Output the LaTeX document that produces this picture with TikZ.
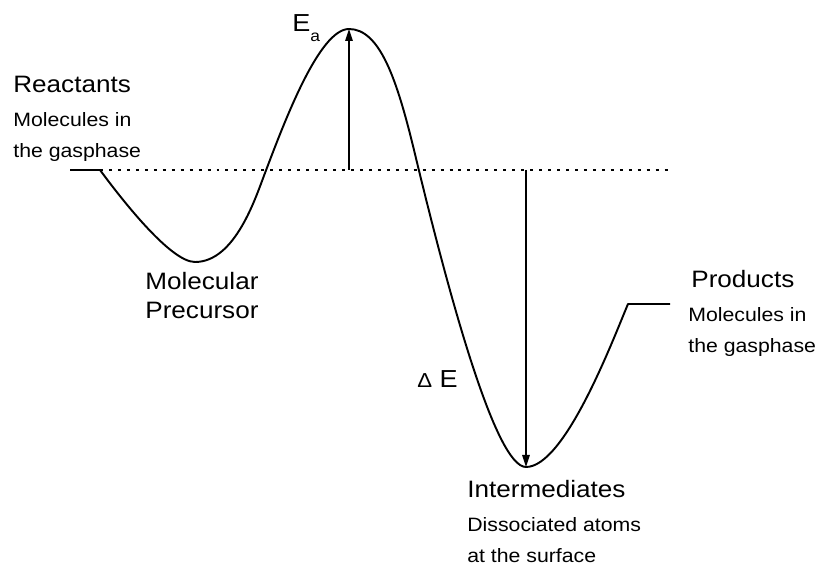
\documentclass[tikz,border=0pt]{standalone}
\usepackage{fontspec}
\setmainfont[FakeStretch=1.1]{Liberation Sans}
\usetikzlibrary{arrows.meta,positioning}
\newcommand{\bigLabel}{\fontsize{13.5}{16}\selectfont}
\newcommand{\smallLabel}{\fontsize{11}{13}\selectfont}

\begin{document}
\begin{tikzpicture}[>={Triangle[length=2.4mm,width=1.5mm]},
  every node/.style={inner sep=0pt, anchor=base west},
  title/.style={font=\bigLabel},
  note/.style={font=\smallLabel},
  profile/.style={line width=1.1pt, line join=round},
  level/.style={line width=0.6pt, dash pattern=on 1.7pt off 3.4pt}]
  \useasboundingbox (0,0) rectangle (16.36,11.34);

  % Reference level and energy profile
  \coordinate (start) at (1.40,7.94);
  \coordinate (react) at (2.00,7.94);
  \coordinate (precursor) at (3.90,6.10);
  \coordinate (rise) at (5.30,7.88);
  \coordinate (top) at (6.98,10.76);
  \coordinate (fall) at (8.28,8.34);
  \coordinate (well) at (10.52,2.00);
  \coordinate (prod) at (12.56,5.26);
  \coordinate (stop) at (13.40,5.26);
  \coordinate (eaBase) at (6.98,7.94);
  \coordinate (deBase) at (10.52,7.94);
  \coordinate (levelEnd) at (13.46,7.94);

  \draw[level] (react) -- (levelEnd);
  \draw[profile] (start) -- (react)
    .. controls (2.40,7.40) and (3.40,6.10) .. (precursor)
    .. controls (4.70,6.10) and (5.11,7.38) .. (rise)
    .. controls (5.68,8.88) and (6.38,10.76) .. (top)
    .. controls (7.60,10.76) and (7.94,9.74) .. (fall)
    .. controls (9.00,5.34) and (9.92,2.00) .. (well)
    .. controls (11.30,2.00) and (12.26,4.55) .. (prod)
    -- (stop);

  % Arrows
  \draw[->, line width=0.8pt] (eaBase) -- (top);
  \draw[->, line width=0.8pt] (deBase) -- (well);

  % Labels
  \node[font=\fontsize{14}{16}\selectfont] (Ea) at (5.84,10.70) {E\raisebox{-5.5pt}{\fontsize{9}{10}\selectfont a}};
  \node[font=\fontsize{14}{16}\selectfont] (dE) at (8.34,3.58) {{\fontsize{11.5}{12}\selectfont Δ} E};

  \node[title] (reactants) at (0.26,9.48) {Reactants};
  \node[note] (reactantsA) at (0.26,8.80) {Molecules in};
  \node[note] (reactantsB) at (0.26,8.18) {the gasphase};

  \node[title] (precursorA) at (2.90,5.54) {Molecular};
  \node[title] (precursorB) at (2.90,4.96) {Precursor};

  \node[title] (products) at (13.82,5.58) {Products};
  \node[note] (productsA) at (13.76,4.90) {Molecules in};
  \node[note] (productsB) at (13.76,4.28) {the gasphase};

  \node[title] (inter) at (9.34,1.38) {Intermediates};
  \node[note] (interA) at (9.34,0.70) {Dissociated atoms};
  \node[note] (interB) at (9.34,0.08) {at the surface};
\end{tikzpicture}
\end{document}
